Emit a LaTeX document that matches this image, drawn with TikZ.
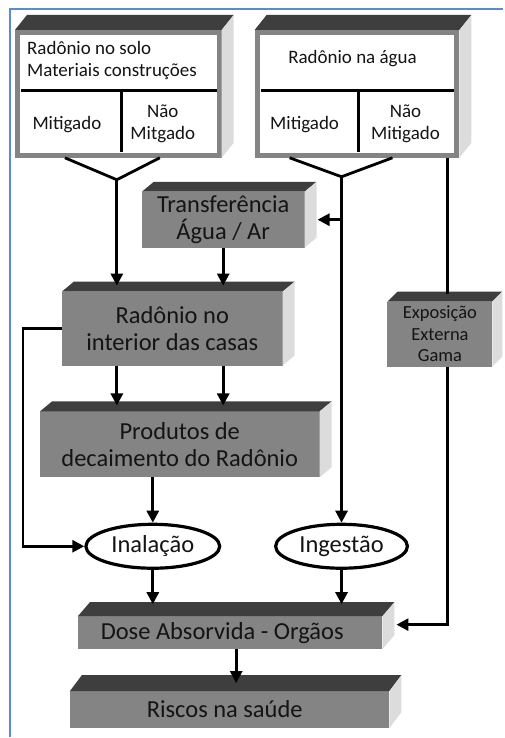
\documentclass[tikz,border=0pt]{standalone}
\usepackage{fontspec}
\setmainfont{Carlito}
\usetikzlibrary{arrows.meta,shapes.geometric}
\definecolor{frente}{RGB}{132,132,132}
\definecolor{topo}{RGB}{62,62,62}
\definecolor{lado}{RGB}{220,220,220}
\definecolor{moldura}{RGB}{91,139,208}
\definecolor{texto}{RGB}{20,20,20}
\tikzset{
  caixa/.style={fill=frente, text=texto, align=center, outer sep=0pt, inner sep=0pt,
    font=\fontsize{24.5}{27}\selectfont},
  quadro/.style={fill=white, draw=frente, line width=5pt},
  oval/.style={ellipse, draw, line width=3.2pt, fill=white, inner sep=0pt, text=texto,
    font=\fontsize{24.5}{27}\selectfont},
  linha/.style={line width=2.8pt},
  seta/.style={linha, -{Triangle[length=12pt,width=12pt]}},
  rotulo/.style={font=\fontsize{19}{22}\selectfont, text=texto, align=center, inner sep=0pt},
}
\begin{document}
\begin{tikzpicture}[x=1pt,y=-1pt]
\fill[white] (0,0) rectangle (504,738);
% moldura
\draw[moldura, line width=2pt] (10,738) -- (10,9) -- (504,9);

% fontes de radonio
\node[quadro, minimum width=202pt, minimum height=123pt] (solo) at (118.5,94) {};
\node[quadro, minimum width=200pt, minimum height=123pt] (agua) at (357.5,94) {};
\draw[linha] (21,91) -- (217,91) (122,91) -- (122,152);
\draw[linha] (261,91) -- (455,91) (359,91) -- (359,152);
\node[rotulo, align=left, anchor=west] (solotxt) at (27,61) {Radônio no solo\\Materiais construções};
\node[rotulo] (mit1) at (67,125) {Mitigado};
\node[rotulo] (nmit1) at (163,124) {Não\\Mitgado};
\node[rotulo] (aguatxt) at (353,59) {Radônio na água};
\node[rotulo] (mit2) at (305,125) {Mitigado};
\node[rotulo] (nmit2) at (406,124) {Não\\Mitigado};

% blocos
\node[caixa, minimum width=163pt, minimum height=56pt] (trans) at (223.5,220) {Transferência\\Água / Ar};
\node[caixa, minimum width=221pt, minimum height=74pt] (rad) at (172.5,329) {Radônio no\\interior das casas};
\node[caixa, minimum width=280pt, minimum height=66pt] (prod) at (180,445) {Produtos de\\decaimento do Radônio};
\node[caixa, minimum width=105pt, minimum height=65pt, font=\fontsize{18.5}{21.5}\selectfont] (gama) at (440.5,334.5) {Exposição\\Externa\\Gama};
\node[caixa, minimum width=305pt, minimum height=33pt] (dose) at (230.5,633.5) {Dose Absorvida - Orgãos\hspace{16pt}};
\node[caixa, minimum width=320pt, minimum height=37pt] (riscos) at (230,710.5) {Riscos na saúde\hspace{10pt}};

% vias
\node[oval, minimum width=134pt, minimum height=44pt] (inal) at (153,547) {Inalação};
\node[oval, minimum width=132pt, minimum height=44pt] (inge) at (342,547) {Ingestão};

% faces 3D
\foreach \n/\dx/\dy in {solo/12/15, agua/12/15, trans/12/10, rad/12/10, prod/12/10, gama/10/10, dose/12/14, riscos/12/16} {
  \fill[topo] (\n.north west) -- ++(\dx,-\dy) -- ([shift={(\dx,-\dy)}]\n.north east) -- (\n.north east) -- cycle;
  \fill[lado] (\n.north east) -- ++(\dx,-\dy) -- ([shift={(\dx,-\dy)}]\n.south east) -- (\n.south east) -- cycle;
}

% conexoes
\coordinate (v1) at (117,180);
\coordinate (v2) at (342,177);
\coordinate (s1) at (65,158);
\coordinate (s2) at (160,158);
\coordinate (s3) at (290,158);
\coordinate (s4) at (393,158);
\coordinate (g1) at (448,158);
\coordinate (d1) at ([xshift=6pt]dose.south);

\draw[linha] (s1) -- (v1) -- (s2);
\draw[linha] (s3) -- (v2) -- (s4);
\draw[seta, shorten >=6pt] (v1) -- (v1 |- rad.north);
\draw[seta, shorten >=6pt] (trans.south) -- (trans.south |- rad.north);
\draw[seta, shorten >=6pt] (rad.south -| v1) -- (v1 |- prod.north);
\draw[seta, shorten >=6pt] (rad.south -| trans.south) -- (trans.south |- prod.north);
\draw[seta] (prod.south -| inal.north) -- (inal.north);
\draw[seta] (rad.west) -- ++(-39,0) |- (inal.west);
\draw[seta] (v2) -- (inge.north);
\draw[seta, shorten >=13pt] (v2 |- trans.east) -- (trans.east);
\draw[seta, shorten >=12pt] (inal.south) -- (inal.south |- dose.north);
\draw[seta, shorten >=12pt] (inge.south) -- (inge.south |- dose.north);
\draw[seta, shorten >=8pt] (d1) -- (d1 |- riscos.north);
\draw[linha, shorten >=8pt] (g1) -- (g1 |- gama.north);
\draw[seta, shorten >=14pt] (g1 |- gama.south) |- ([yshift=8pt]dose.east);
\end{tikzpicture}
\end{document}
